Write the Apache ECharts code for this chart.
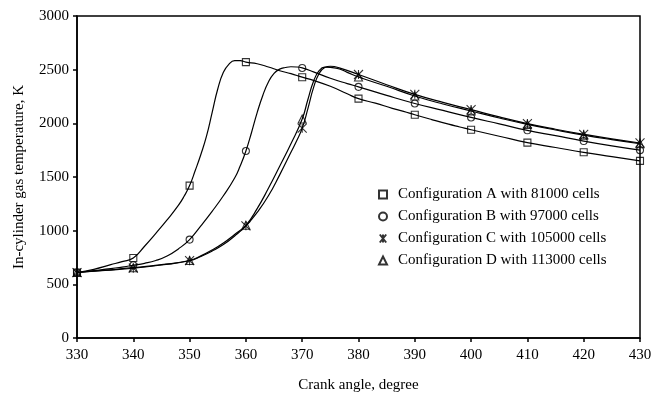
<!DOCTYPE html>
<html>
<head>
<meta charset="utf-8">
<script src="https://cdn.jsdelivr.net/npm/echarts@6/dist/echarts.min.js"></script>
<style>
html, body { margin: 0; padding: 0; background: #fff; }
#chart { width: 660px; height: 396px; }
</style>
</head>
<body>
<div id="chart"></div>
<script>
// In-cylinder gas temperature (K) versus crank angle (degree) for four mesh configurations.
const configNames = [
  'Configuration A with 81000 cells',
  'Configuration B with 97000 cells',
  'Configuration C with 105000 cells',
  'Configuration D with 113000 cells'
];

const angleA = [330,333,336,338,340,342,344,346,348,349,350,351,352,353,354,355,356,357,358,359,360,362,364,366,368,370,372,375,378,380,383,386,388,390,393,396,398,400,405,410,415,420,425,430];
const tempA  = [610,640,683,712,745,855,975,1100,1235,1318,1420,1560,1710,1880,2100,2320,2475,2552,2584,2585,2570,2555,2525,2490,2463,2430,2400,2345,2275,2230,2188,2140,2112,2080,2035,1992,1966,1940,1880,1820,1775,1730,1690,1650];

const angleB = [330,333,336,338,340,342,344,346,348,350,352,354,356,358,359,360,361,362,363,364,365,366,367,368,369,370,372,375,378,380,385,390,395,400,405,410,415,420,425,430];
const tempB  = [610,628,646,661,678,696,722,764,830,917,1045,1180,1325,1490,1605,1742,1915,2100,2260,2385,2465,2505,2520,2527,2525,2516,2480,2420,2370,2340,2260,2185,2120,2055,1995,1935,1885,1835,1790,1750];

const angleC = [330,335,340,345,350,352,354,356,358,360,362,364,366,368,369,370,371,372,373,374,375,377,380,385,390,395,400,405,410,415,420,425,430];
const tempC  = [610,630,650,680,720,760,810,870,950,1045,1170,1325,1520,1730,1835,1955,2135,2330,2465,2520,2532,2510,2455,2360,2270,2195,2128,2060,1998,1945,1898,1855,1817];

const angleD = [330,335,340,345,350,352,354,356,358,360,362,364,366,368,370,371,372,373,374,376,378,380,385,390,395,400,405,410,415,420,425,430];
const tempD  = [610,632,655,683,722,765,820,885,965,1050,1205,1395,1600,1810,2040,2220,2390,2490,2524,2515,2475,2432,2345,2255,2180,2115,2050,1990,1938,1890,1848,1810];

// Axis ranges and tick steps
const xRange = [330, 430], xStep = 10;
const yRange = [0, 3000], yStep = 500;

const markerSymbols = [
  'rect',
  'circle',
  'path://M1,0L9,10M9,0L1,10M5,0L5,10',
  'triangle'
];
const markerSizes = [7, 7, 9, 8];

const curves = [[angleA, tempA], [angleB, tempB], [angleC, tempC], [angleD, tempD]];

const pairs = (xs, ys) => xs.map((x, i) => [x, ys[i]]);
const markerPoints = (xs, ys) => pairs(xs, ys).filter(p => p[0] % xStep === 0);

const serif = 'Liberation Serif, Times New Roman, serif';

const series = [];
curves.forEach((c, i) => {
  series.push({
    name: 'curve' + i,
    type: 'line',
    data: pairs(c[0], c[1]),
    smooth: 0.5,
    showSymbol: false,
    symbol: 'none',
    lineStyle: { color: '#000', width: 1.2 },
    z: 2
  });
});
curves.forEach((c, i) => {
  series.push({
    name: configNames[i],
    type: 'scatter',
    data: markerPoints(c[0], c[1]),
    symbol: markerSymbols[i],
    symbolSize: markerSizes[i],
    itemStyle: { color: 'rgba(0,0,0,0)', borderColor: '#000', borderWidth: 1.1 },
    z: 3
  });
});

const chart = echarts.init(document.getElementById('chart'), null, { renderer: 'canvas' });
chart.setOption({
  backgroundColor: '#fff',
  animation: false,
  grid: {
    left: 77, right: 20, top: 16, bottom: 58,
    containLabel: false, outerBoundsMode: 'none',
    show: true, borderColor: '#000', borderWidth: 1.5, backgroundColor: 'transparent'
  },
  legend: {
    orient: 'vertical',
    left: 373, top: 182,
    itemWidth: 8, itemHeight: 8, itemGap: 7,
    data: configNames.map((n, i) => ({ name: n, icon: markerSymbols[i] })),
    textStyle: { fontFamily: serif, fontSize: 15, color: '#000', padding: [0, 0, 0, 6] },
    selectedMode: false
  },
  xAxis: {
    type: 'value',
    min: xRange[0], max: xRange[1], interval: xStep,
    name: 'Crank angle, degree',
    nameLocation: 'middle', nameGap: 40,
    nameTextStyle: { fontFamily: serif, fontSize: 15, color: '#000' },
    axisLine: { lineStyle: { color: '#000', width: 1.5 } },
    axisTick: { inside: false, length: 4, lineStyle: { color: '#000', width: 1.5 } },
    axisLabel: { fontFamily: serif, fontSize: 15, color: '#000', margin: 10 },
    splitLine: { show: false }
  },
  yAxis: {
    type: 'value',
    min: yRange[0], max: yRange[1], interval: yStep,
    name: 'In-cylinder gas temperature, K',
    nameLocation: 'middle', nameGap: 50,
    nameTextStyle: { fontFamily: serif, fontSize: 15, color: '#000' },
    axisLine: { show: true, lineStyle: { color: '#000', width: 1.5 } },
    axisTick: { show: true, inside: false, length: 4, lineStyle: { color: '#000', width: 1.5 } },
    axisLabel: { fontFamily: serif, fontSize: 15, color: '#000', margin: 8, formatter: v => String(v) },
    splitLine: { show: false }
  },
  series: series
});
</script>
</body>
</html>
